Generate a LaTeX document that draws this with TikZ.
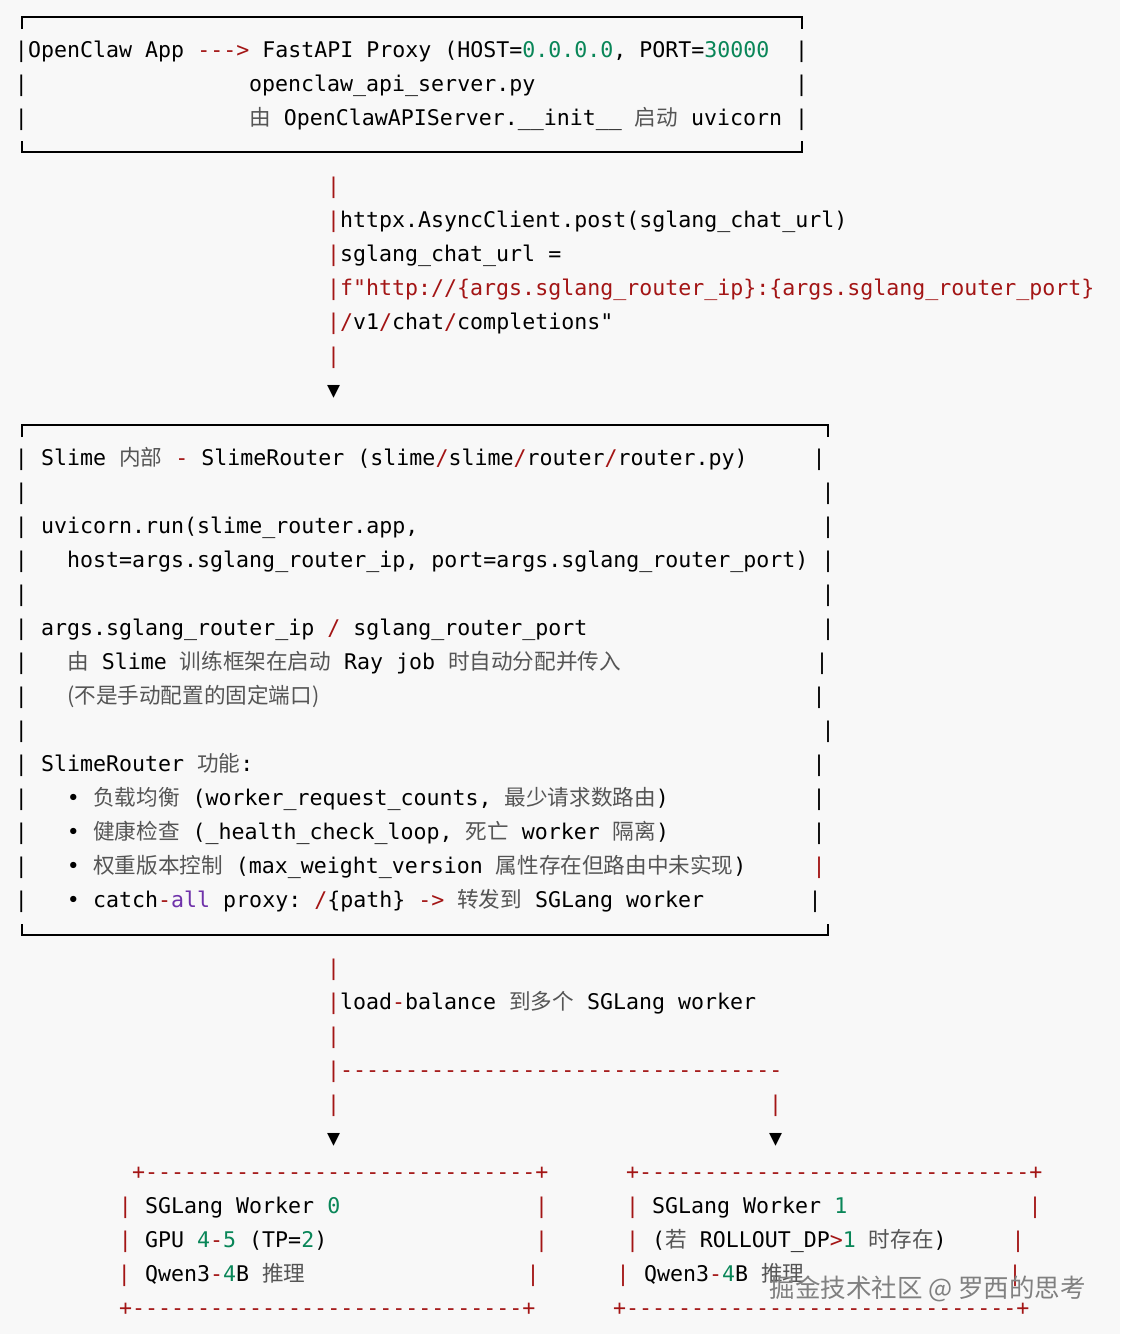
\documentclass[tikz,border=0pt]{standalone}
\usepackage{fontspec}
\setmonofont{DejaVu Sans Mono}
\newfontfamily\zhfont{Noto Sans CJK SC}
\usepackage{xcolor}
\definecolor{codered}{RGB}{163,21,21}
\definecolor{codegreen}{RGB}{9,134,88}
\definecolor{codepurple}{RGB}{111,50,170}
\definecolor{zhgray}{RGB}{85,85,85}
\definecolor{paper}{RGB}{248,248,248}
\newcommand{\rd}[1]{\textcolor{codered}{#1}}
\newcommand{\gn}[1]{\textcolor{codegreen}{#1}}
\newcommand{\pu}[1]{\textcolor{codepurple}{#1}}
\newcommand{\zh}[1]{{\zhfont\color{zhgray}#1}}

\begin{document}
\begin{tikzpicture}[x=1pt,y=-1pt,inner sep=0pt,
		font=\ttfamily\fontsize{21.6}{34}\selectfont]
		\tikzstyle{codeline}=[anchor=base west]
		\tikzstyle{pipe}=[anchor=base]
		\tikzstyle{boxline}=[line width=1.6pt,black]
		
		\fill[paper] (0,0) rectangle (1120,1334);
		\useasboundingbox (0,0) rectangle (1120,1334);
		
		% proxy box
		\draw[boxline] (22,29) |- (802,17) -- (802,29);
		\draw[boxline] (22,141) |- (802,152) -- (802,141);
		\foreach \y in {57,91,125} {\node[pipe] (pa\y) at (21.5,\y) {|};
			\node[pipe] (pb\y) at (801.5,\y) {|};}
		\node[codeline] (A1) at (28,57) {OpenClaw App \rd{--->} FastAPI Proxy (HOST=\gn{0.0.0.0}, PORT=\gn{30000}};
		\node[codeline] (A2) at (249,91) {openclaw\_api\_server.py};
		\node[codeline] (A3) at (249,125) {\zh{由} OpenClawAPIServer.\_\_init\_\_ \zh{启动} uvicorn};
		
		% httpx call
		\foreach \y in {193,227,261,295,329,363}
			\node[pipe,text=codered] (m\y) at (333.5,\y) {|};
		\node[codeline] (B1) at (340,227) {httpx.AsyncClient.post(sglang\_chat\_url)};
		\node[codeline] (B2) at (340,261) {sglang\_chat\_url =};
		\node[codeline,text=codered] (B3) at (340,295) {f"http://\{args.sglang\_router\_ip\}:\{args.sglang\_router\_port\}};
		\node[codeline] (B4) at (340,329) {\rd{/}v1\rd{/}chat\rd{/}completions"};
		\node[pipe] (T1) at (333.5,397) {▼};
		
		% router box
		\draw[boxline] (22,437) |- (828,425) -- (828,437);
		\draw[boxline] (22,924) |- (828,935) -- (828,924);
		\foreach \y in {465,499,...,907}
			\node[pipe] (pc\y) at (21.5,\y) {|};
		\foreach \y/\x in {465/819,499/828,533/828,567/828,601/828,635/828,669/822,
			703/819,737/828,771/819,805/819,839/819,907/815}
			\node[pipe] (pd\y) at (\x,\y) {|};
		\node[pipe,text=codered] (pd873) at (819,873) {|};
		\node[codeline] (C1) at (41,465) {Slime \zh{内部} \rd{-} SlimeRouter (slime\rd{/}slime\rd{/}router\rd{/}router.py)};
		\node[codeline] (C2) at (41,533) {uvicorn.run(slime\_router.app,};
		\node[codeline] (C3) at (67,567) {host=args.sglang\_router\_ip, port=args.sglang\_router\_port)};
		\node[codeline] (C4) at (41,635) {args.sglang\_router\_ip \rd{/} sglang\_router\_port};
		\node[codeline] (C5) at (67,669) {\zh{由} Slime \zh{训练框架在启动} Ray job \zh{时自动分配并传入}};
		\node[codeline] (C6) at (67,703) {\zh{(不是手动配置的固定端口)}};
		\node[codeline] (C7) at (41,771) {SlimeRouter \zh{功能}:};
		\foreach \y in {805,839,873,907}
			\node[pipe] (dot\y) at (73.5,\y) {•};
		\node[codeline] (D1) at (93,805) {\zh{负载均衡} (worker\_request\_counts, \zh{最少请求数路由})};
		\node[codeline] (D2) at (93,839) {\zh{健康检查} (\_health\_check\_loop, \zh{死亡} worker \zh{隔离})};
		\node[codeline] (D3) at (93,873) {\zh{权重版本控制} (max\_weight\_version \zh{属性存在但路由中未实现})};
		\node[codeline] (D4) at (93,907) {catch\rd{-}\pu{all} proxy: \rd{/}\{path\} \rd{->} \zh{转发到} SGLang worker};
		
		% load balance
		\foreach \y in {975,1009,1043,1111}
			\node[pipe,text=codered] (n\y) at (333.5,\y) {|};
		\node[pipe,text=codered] (n2) at (775.5,1111) {|};
		\node[codeline] (E1) at (340,1009) {load\rd{-}balance \zh{到多个} SGLang worker};
		\node[codeline,text=codered] (E2) at (327,1077) {|----------------------------------};
		\node[pipe] (T2) at (333.5,1145) {▼};
		\node[pipe] (T3) at (775.5,1145) {▼};
		
		% worker boxes
		\node[codeline,text=codered] (F0) at (132,1179) {+------------------------------+};
		\node[codeline,text=codered] (F4) at (119,1315) {+------------------------------+};
		\node[codeline,text=codered] (G0) at (626,1179) {+------------------------------+};
		\node[codeline,text=codered] (G4) at (613,1315) {+------------------------------+};
		\foreach \y/\xl/\xr/\zl/\zr in {1213/125.5/541.5/632.5/1035,
			1247/125.5/541.5/632.5/1018,1281/124.5/533/623/1015}
			{\node[pipe,text=codered] (fl\y) at (\xl,\y) {|};
			\node[pipe,text=codered] (fr\y) at (\xr,\y) {|};
			\node[pipe,text=codered] (gl\y) at (\zl,\y) {|};
			\node[pipe,text=codered] (gr\y) at (\zr,\y) {|};}
		\node[codeline] (F1) at (145,1213) {SGLang Worker \gn{0}};
		\node[codeline] (F2) at (145,1247) {GPU \gn{4}\rd{-}\gn{5} (TP=\gn{2})};
		\node[codeline] (F3) at (145,1281) {Qwen3\rd{-}\gn{4}B \zh{推理}};
		\node[codeline] (G1) at (652,1213) {SGLang Worker \gn{1}};
		\node[codeline] (G2) at (652,1247) {(\zh{若} ROLLOUT\_DP\rd{>}\gn{1} \zh{时存在})};
		\node[codeline] (G3) at (644,1281) {Qwen3\rd{-}\gn{4}B \zh{推理}};
		
		\node[anchor=base east,text=black!50,font=\zhfont\fontsize{25.5}{25.5}\selectfont] (W) at (1086,1297) {掘金技术社区 @ 罗西的思考};
		\end{tikzpicture}
\end{document}
